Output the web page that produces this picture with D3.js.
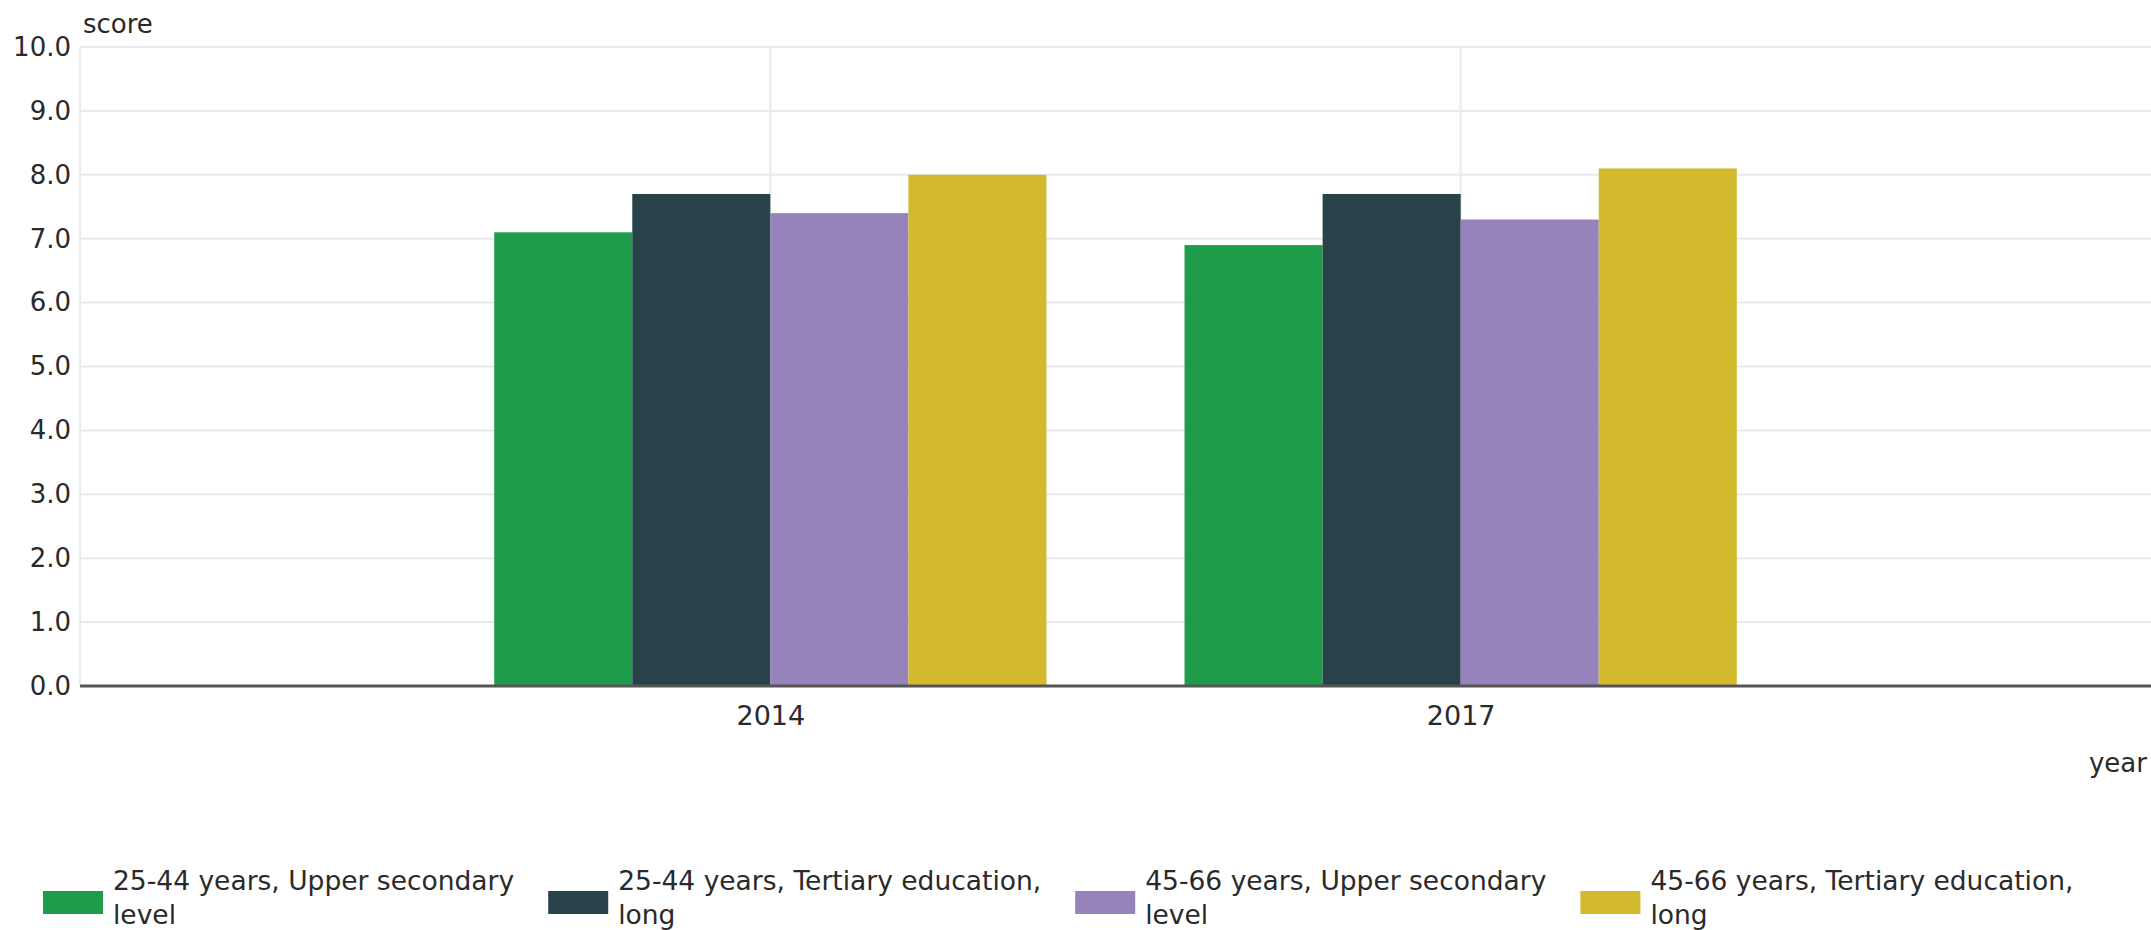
<!DOCTYPE html>
<html>
<head>
<meta charset="utf-8">
<script src="https://cdn.jsdelivr.net/npm/d3@7"></script>
<style>
  body { margin: 0; background: #fff; }
  svg { display: block; font-family: "DejaVu Sans", sans-serif; }
  .tick text { fill: #2a2a2a; }
</style>
</head>
<body>
<svg width="2151" height="930"></svg>
<script>
// categories on the x axis
var years = ["2014", "2017"];

// series names (legend) and colours
var seriesNames = [
  "25-44 years, Upper secondary level",
  "25-44 years, Tertiary education, long",
  "45-66 years, Upper secondary level",
  "45-66 years, Tertiary education, long"
];
var seriesColors = ["#1e9c4a", "#284249", "#9683bb", "#d2ba2c"];

// values per series, one per year
var young_upper = [7.1, 6.9];
var young_tertiary = [7.7, 7.7];
var old_upper = [7.4, 7.3];
var old_tertiary = [8.0, 8.1];
var seriesValues = [young_upper, young_tertiary, old_upper, old_tertiary];

// y ticks
var yTicks = [0, 1, 2, 3, 4, 5, 6, 7, 8, 9, 10];

var width = 2151, height = 930;
var margin = {top: 47, right: 0, bottom: 244, left: 80};
var svg = d3.select("svg");

var y = d3.scaleLinear()
    .domain([0, 10])
    .range([height - margin.bottom, margin.top]);

var x = d3.scalePoint()
    .domain(years)
    .range([margin.left, width - margin.right])
    .padding(1);

var groupWidth = x.step() * 0.8;
var x1 = d3.scaleBand()
    .domain(d3.range(seriesNames.length))
    .range([0, groupWidth])
    .padding(0);

// horizontal grid lines
svg.append("g")
    .selectAll("line")
    .data(yTicks.slice(1))
    .enter().append("line")
    .attr("x1", margin.left)
    .attr("x2", width - margin.right)
    .attr("y1", function(d) { return y(d); })
    .attr("y2", function(d) { return y(d); })
    .attr("stroke", "#e6ecee")
    .attr("stroke-width", 2);

// vertical grid lines at the categories + left edge
svg.append("g")
    .selectAll("line")
    .data(years)
    .enter().append("line")
    .attr("x1", function(d) { return x(d); })
    .attr("x2", function(d) { return x(d); })
    .attr("y1", y(10))
    .attr("y2", y(0))
    .attr("stroke", "#e6ecee")
    .attr("stroke-width", 2);

svg.append("line")
    .attr("x1", margin.left).attr("x2", margin.left)
    .attr("y1", y(10)).attr("y2", y(0))
    .attr("stroke", "#e6ecee")
    .attr("stroke-width", 2);

// y axis labels
var yAxis = d3.axisLeft(y)
    .tickValues(yTicks)
    .tickFormat(d3.format(".1f"))
    .tickSize(0)
    .tickPadding(9);

svg.append("g")
    .attr("transform", "translate(" + margin.left + ",0)")
    .call(yAxis)
    .call(function(g) { g.select(".domain").remove(); })
    .selectAll("text")
    .attr("font-size", 26)
    .attr("font-family", "DejaVu Sans, sans-serif");

// bars
var groups = svg.append("g")
    .selectAll("g")
    .data(seriesValues)
    .enter().append("g")
    .attr("fill", function(d, i) { return seriesColors[i]; });

groups.each(function(vals, si) {
  d3.select(this).selectAll("rect")
    .data(vals)
    .enter().append("rect")
    .attr("x", function(v, yi) { return x(years[yi]) - groupWidth / 2 + x1(si); })
    .attr("width", x1.bandwidth())
    .attr("y", function(v) { return y(v); })
    .attr("height", function(v) { return y(0) - y(v); });
});

// x axis
var xAxis = d3.axisBottom(x)
    .tickSize(0)
    .tickPadding(20);

svg.append("g")
    .attr("transform", "translate(0," + y(0) + ")")
    .call(xAxis)
    .call(function(g) { g.select(".domain").remove(); })
    .selectAll("text")
    .attr("font-size", 27)
    .attr("font-family", "DejaVu Sans, sans-serif");

svg.append("line")
    .attr("x1", margin.left).attr("x2", width - margin.right)
    .attr("y1", y(0)).attr("y2", y(0))
    .attr("stroke", "#555")
    .attr("stroke-width", 3);

// axis titles
svg.append("text")
    .attr("x", 83)
    .attr("y", 33)
    .attr("font-size", 26)
    .attr("fill", "#2a2a2a")
    .text("score");

svg.append("text")
    .attr("x", width - 4)
    .attr("y", 772)
    .attr("text-anchor", "end")
    .attr("font-size", 26)
    .attr("fill", "#2a2a2a")
    .text("year");

// legend, items flow left to right, text wrapped
var legend = svg.append("g").attr("font-size", 26.5).attr("fill", "#2a2a2a");
var lx = 43;
var maxTextWidth = 450;

seriesNames.forEach(function(name, i) {
  var item = legend.append("g");
  item.append("rect")
    .attr("x", lx)
    .attr("y", 891)
    .attr("width", 60)
    .attr("height", 23)
    .attr("fill", seriesColors[i]);

  var text = item.append("text")
      .attr("x", lx + 70)
      .attr("y", 890);
  var words = name.split(" ");
  var line = [];
  var tspan = text.append("tspan").attr("x", lx + 70).attr("y", 890);
  var lineNo = 0;
  var widest = 0;
  words.forEach(function(w) {
    line.push(w);
    tspan.text(line.join(" "));
    if (tspan.node().getComputedTextLength() > maxTextWidth && line.length > 1) {
      line.pop();
      tspan.text(line.join(" "));
      widest = Math.max(widest, tspan.node().getComputedTextLength());
      line = [w];
      lineNo++;
      tspan = text.append("tspan")
        .attr("x", lx + 70)
        .attr("y", 890 + lineNo * 34)
        .text(w);
    }
  });
  widest = Math.max(widest, tspan.node().getComputedTextLength());
  lx = lx + 70 + widest + 34;
});
</script>
</body>
</html>
